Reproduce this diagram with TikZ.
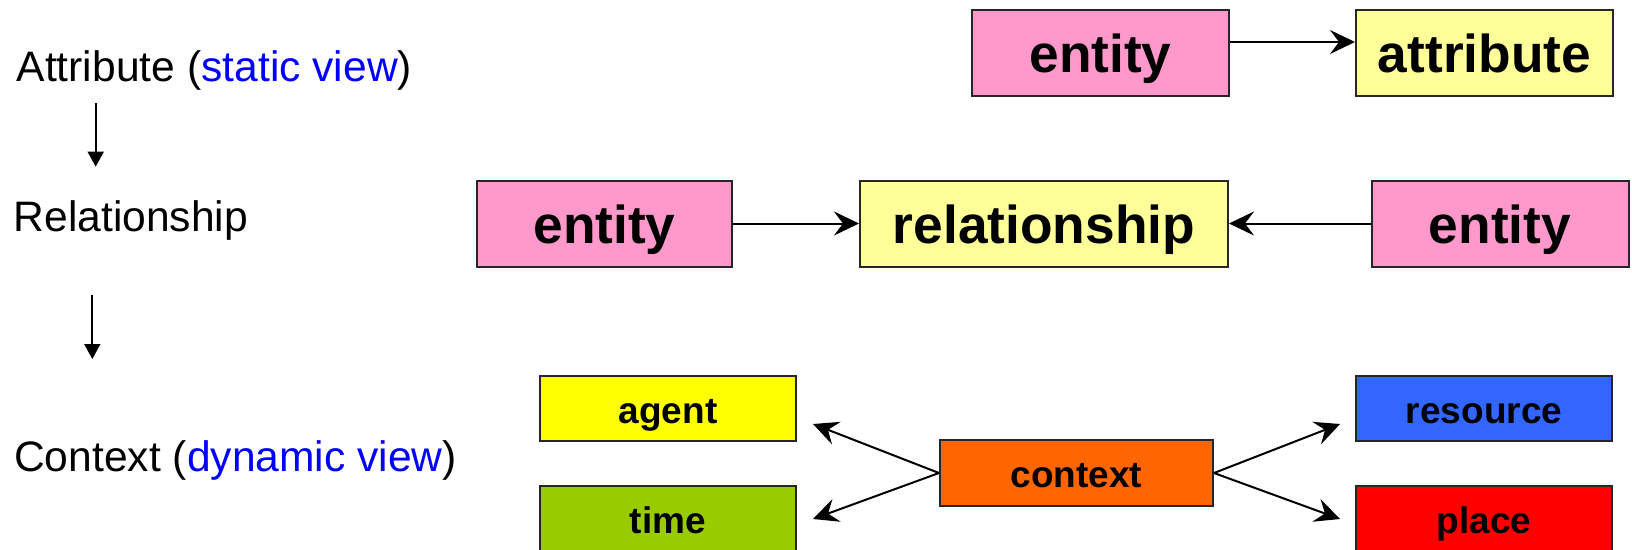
\documentclass[tikz,border=0pt]{standalone}
\usepackage{fontspec}
\setmainfont{Liberation Sans}
\usetikzlibrary{arrows.meta}
\definecolor{pinkfill}{HTML}{FF99CC}
\definecolor{paleyellow}{HTML}{FFFF99}
\definecolor{agentyellow}{HTML}{FFFF00}
\definecolor{timegreen}{HTML}{99CC00}
\definecolor{ctxorange}{HTML}{FF6600}
\definecolor{resblue}{HTML}{3366FF}
\definecolor{placered}{HTML}{FF0000}
\definecolor{viewblue}{HTML}{0000FF}
\begin{document}
\begin{tikzpicture}[x=1pt, y=-1pt,
  box/.style={draw=black!85, line width=2pt, inner sep=0pt, rectangle},
  bigbox/.style={box, minimum height=86pt, text height=39pt, text depth=0pt,
    font=\fontsize{53.3}{53.3}\selectfont\bfseries},
  smallbox/.style={box, minimum width=256pt, minimum height=65pt,
    text height=29pt, text depth=0pt,
    font=\fontsize{37}{37}\selectfont\bfseries},
  label/.style={anchor=base west, inner sep=0pt,
    font=\fontsize{42.6}{42.6}\selectfont},
  link/.style={line width=2pt, -{Stealth[length=25pt, width=24pt, inset=9pt]}},
  down/.style={line width=1.7pt, -{Triangle[length=15pt, width=16pt]}}
]
\useasboundingbox (0,0) rectangle (1632,549);

% levels of the model on the left
\node[label] (lattr) at (16.5,81.7) {Attribute (\textcolor{viewblue}{static view})};
\node[label] (lrel) at (13.5,231.5) {Relationship};
\node[label] (lctx) at (14,471.7) {Context (\textcolor{viewblue}{dynamic view})};
\coordinate (d1a) at (95.7,103);
\coordinate (d1b) at (95.7,166.7);
\coordinate (d2a) at (92.3,294.8);
\coordinate (d2b) at (92.3,359);
\draw[down] (d1a) -- (d1b);
\draw[down] (d2a) -- (d2b);

% attribute level
\node[bigbox, fill=pinkfill, minimum width=257pt] (ent1) at (1100.5,53) {entity};
\node[bigbox, fill=paleyellow, minimum width=257pt] (attr) at (1484.5,53) {attribute};
\draw[link] ([yshift=11pt]ent1.east) -- ([yshift=11pt]attr.west);

% relationship level
\node[bigbox, fill=pinkfill, minimum width=255pt] (ent2) at (604.5,223.5) {entity};
\node[bigbox, fill=paleyellow, minimum width=368pt] (rel) at (1044,223.5) {relationship};
\node[bigbox, fill=pinkfill, minimum width=257pt] (ent3) at (1500,223.5) {entity};
\draw[link] (ent2.east) -- (rel.west);
\draw[link] (ent3.west) -- (rel.east);

% context level
\node[smallbox, fill=agentyellow] (agent) at (668,408.5) {agent};
\node[smallbox, fill=timegreen] (time) at (668,518.5) {time};
\node[smallbox, fill=ctxorange, minimum width=273pt, minimum height=66pt] (ctx) at (1076.5,473) {context};
\node[smallbox, fill=resblue] (res) at (1484,408.5) {resource};
\node[smallbox, fill=placered] (place) at (1484,518.5) {place};
\coordinate (tagent) at (813,424);
\coordinate (ttime) at (813,519);
\coordinate (tres) at (1340,424);
\coordinate (tplace) at (1340,519);
\draw[link] (ctx.west) -- (tagent);
\draw[link] (ctx.west) -- (ttime);
\draw[link] (ctx.east) -- (tres);
\draw[link] (ctx.east) -- (tplace);
\end{tikzpicture}
\end{document}
